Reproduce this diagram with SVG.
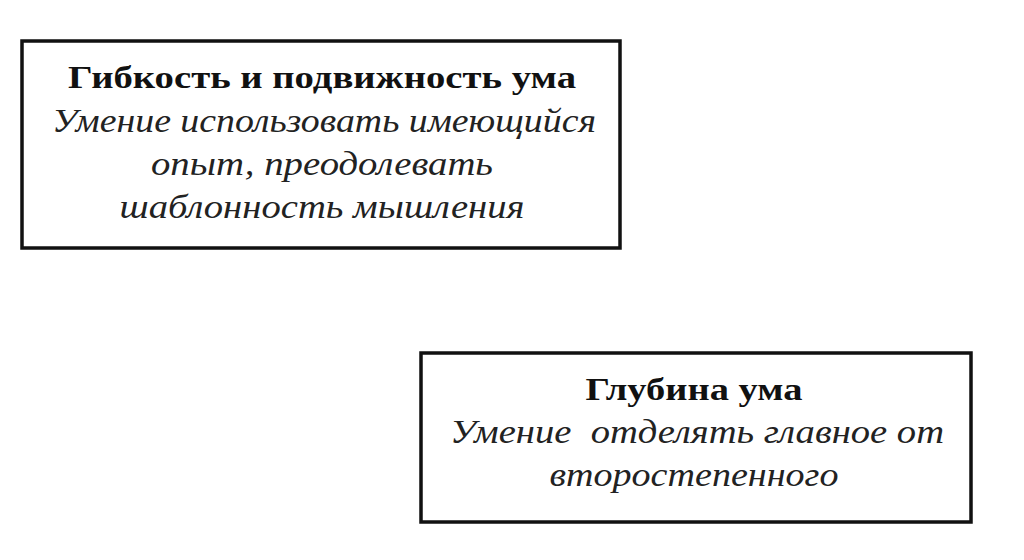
<svg xmlns="http://www.w3.org/2000/svg" width="1024" height="560" viewBox="0 0 1024 560">
<style>
.box{fill:#fff;stroke:#111;stroke-width:3.5}
.t{font-family:"Liberation Serif","Times New Roman",serif;font-weight:bold;font-size:32px;fill:#111;text-anchor:middle}
.s{font-family:"Liberation Serif","Times New Roman",serif;font-style:italic;font-size:33px;fill:#222;text-anchor:middle}
</style>
<rect width="1024" height="560" fill="#fff"/>
<g id="node1">
<rect class="box" x="22" y="41" width="598" height="207"/>
<text class="t" x="322" y="88" textLength="508" lengthAdjust="spacingAndGlyphs">Гибкость и подвижность ума</text>
<text class="s" x="324" y="132" textLength="544" lengthAdjust="spacingAndGlyphs">Умение использовать имеющийся</text>
<text class="s" x="322" y="175" textLength="342" lengthAdjust="spacingAndGlyphs">опыт, преодолевать</text>
<text class="s" x="322" y="218" textLength="405" lengthAdjust="spacingAndGlyphs">шаблонность мышления</text>
</g>
<g id="node2">
<rect class="box" x="421" y="353" width="550" height="169"/>
<text class="t" x="694" y="400" textLength="217" lengthAdjust="spacingAndGlyphs">Глубина ума</text>
<text class="s" x="697" y="443" textLength="494" lengthAdjust="spacingAndGlyphs" xml:space="preserve">Умение  отделять главное от</text>
<text class="s" x="694" y="486" textLength="289" lengthAdjust="spacingAndGlyphs">второстепенного</text>
</g>
<g id="connectors"/>
</svg>
